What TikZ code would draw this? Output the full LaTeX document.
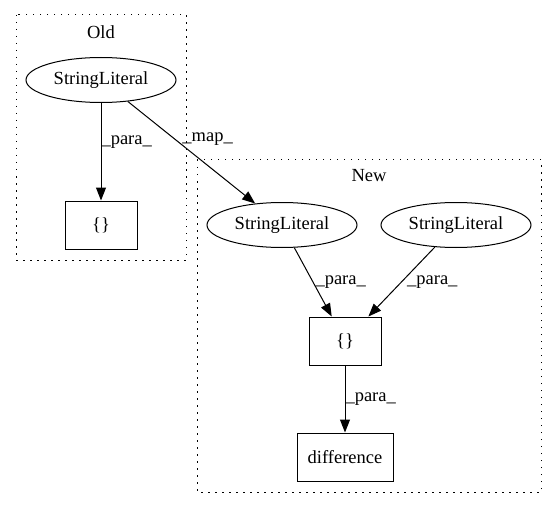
\documentclass[tikz,border=0pt]{standalone}
\usepackage{fontspec}
\setmainfont{Liberation Serif}
\usetikzlibrary{arrows.meta,shapes.geometric}
\begin{document}
\begin{tikzpicture}[x=1pt, y=-1pt, line width=1pt,
    >={Triangle[length=13pt,width=10pt]},
    font=\fontsize{18.5}{22}\selectfont,
    lit/.style={draw, ellipse, inner sep=0pt, minimum width=150pt, minimum height=45pt},
    box/.style={draw, rectangle, inner sep=0pt, minimum height=48pt},
    cluster/.style={draw, dash pattern=on 1.5pt off 5.5pt},
    elabel/.style={anchor=west, inner sep=0pt}]
  \useasboundingbox (0, 0) rectangle (557, 508);

  \draw[cluster] (16, 15) rectangle (186, 260);
  \node (oldTitle) at (101, 32) {Old};
  \draw[cluster] (197, 160) rectangle (541, 492);
  \node (newTitle) at (369, 176) {New};

  \node[lit] (oldLit) at (101, 80) {StringLiteral};
  \node[box, minimum width=72pt] (oldBrace) at (101, 225) {\{\}};
  \node[lit] (newLitA) at (282, 225) {StringLiteral};
  \node[lit] (newLitB) at (456, 225) {StringLiteral};
  \node[box, minimum width=72pt] (newBrace) at (345, 341) {\{\}};
  \node[box, minimum width=96pt] (diff) at (345, 457) {difference};

  \draw[->] (oldLit) -- (oldBrace) node[elabel, pos=0.4] {\_para\_};
  \draw[->] (oldLit) -- (newLitA) node[elabel, pos=0.37, xshift=7pt] {\_map\_};
  \draw[->] (newLitA) -- (newBrace) node[elabel, pos=0.5, xshift=2pt] {\_para\_};
  \draw[->] (newLitB) -- (newBrace) node[elabel, pos=0.5, xshift=5pt] {\_para\_};
  \draw[->] (newBrace) -- (diff) node[elabel, midway] {\_para\_};
\end{tikzpicture}
\end{document}
